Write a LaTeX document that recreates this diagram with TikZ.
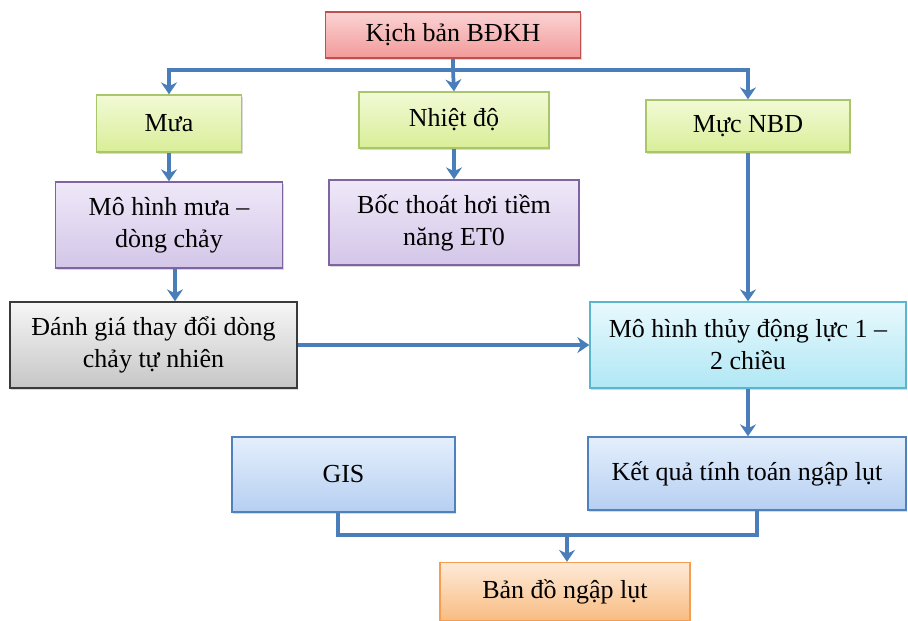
\documentclass[tikz,border=0pt]{standalone}
\usepackage{fontspec}
\setmainfont{Liberation Serif}
\usepackage{xcolor}
\usepackage{tikz}
\usetikzlibrary{arrows.meta,shadows}
\definecolor{Wire}{HTML}{4A7EBB}
\definecolor{RedLine}{HTML}{C0504D}
\definecolor{RedTop}{HTML}{FBD3D3}
\definecolor{RedBot}{HTML}{F29A9A}
\definecolor{GreenLine}{HTML}{A9C66A}
\definecolor{GreenTop}{HTML}{F2FAD6}
\definecolor{GreenBot}{HTML}{D9EE98}
\definecolor{PurpLine}{HTML}{8064A2}
\definecolor{PurpTop}{HTML}{EFE8F8}
\definecolor{PurpBot}{HTML}{D3C6E8}
\definecolor{GrayLine}{HTML}{3A3A3A}
\definecolor{GrayTop}{HTML}{F6F6F6}
\definecolor{GrayBot}{HTML}{C6C6C6}
\definecolor{CyanLine}{HTML}{5BB5CE}
\definecolor{CyanTop}{HTML}{E8F9FD}
\definecolor{CyanBot}{HTML}{B0E7F5}
\definecolor{BlueLine}{HTML}{4F81BD}
\definecolor{BlueTop}{HTML}{E4EFFC}
\definecolor{BlueBot}{HTML}{B6CFF2}
\definecolor{OrLine}{HTML}{F59D50}
\definecolor{OrTop}{HTML}{FDEAD8}
\definecolor{OrBot}{HTML}{F9BC82}

\begin{document}
\begin{tikzpicture}[x=0.75pt,y=-0.75pt,
  box/.style={draw,line width=1pt,align=center,inner sep=2pt,
    font=\fontsize{19.5}{24}\selectfont,
    drop shadow={shadow xshift=1pt,shadow yshift=-1.5pt,opacity=.3}},
  redbox/.style={box,draw=RedLine,top color=RedTop,bottom color=RedBot},
  greenbox/.style={box,draw=GreenLine,top color=GreenTop,bottom color=GreenBot},
  purpbox/.style={box,draw=PurpLine,top color=PurpTop,bottom color=PurpBot},
  graybox/.style={box,draw=GrayLine,top color=GrayTop,bottom color=GrayBot},
  cyanbox/.style={box,draw=CyanLine,top color=CyanTop,bottom color=CyanBot},
  bluebox/.style={box,draw=BlueLine,top color=BlueTop,bottom color=BlueBot},
  orbox/.style={box,draw=OrLine,top color=OrTop,bottom color=OrBot},
  link/.style={Wire,line width=2.8pt},
  arr/.style={link,-{Stealth[length=9pt,width=12pt]}}]
\useasboundingbox (0,0) rectangle (908,621);
\node[redbox,minimum width=191.25pt,minimum height=34.5pt] (bdkh) at (453,35) {Kịch bản BĐKH};
\node[greenbox,minimum width=108.75pt,minimum height=42.75pt] (mua) at (169,123.5) {Mưa};
\node[greenbox,minimum width=142.5pt,minimum height=42pt] (nhiet) at (454,120) {Nhiệt độ};
\node[greenbox,minimum width=153pt,minimum height=39pt] (mucnbd) at (748,126) {Mực NBD};
\node[purpbox,minimum width=170.25pt,minimum height=64.5pt] (mhmua) at (169,225) {Mô hình mưa –\\dòng chảy};
\node[purpbox,minimum width=187.5pt,minimum height=63.75pt] (bocthoat) at (454,222.5) {Bốc thoát hơi tiềm\\năng ET0};
\node[graybox,minimum width=215.25pt,minimum height=64.5pt] (danhgia) at (153.5,345) {Đánh giá thay đổi dòng\\chảy tự nhiên};
\node[cyanbox,minimum width=237pt,minimum height=64.5pt] (thuydong) at (748,345) {Mô hình thủy động lực 1 –\\2 chiều};
\node[bluebox,minimum width=167.25pt,minimum height=56.25pt] (gis) at (343.5,474.5) {GIS};
\node[bluebox,minimum width=238.5pt,minimum height=54.75pt] (ketqua) at (747,473.5) {Kết quả tính toán ngập lụt};
\node[orbox,minimum width=187.5pt,minimum height=43.5pt] (bando) at (565,591.5) {Bản đồ ngập lụt};
% bus lines
\coordinate (topbus) at (453,70);
\coordinate (botbus) at (567,535);
\draw[link] (bdkh.south) -- (topbus);
\draw[arr] (topbus) -| (mua.north);
\draw[arr] (topbus) -- (nhiet.north);
\draw[arr] (topbus) -| (mucnbd.north);
\draw[arr] (mua) -- (mhmua);
\draw[arr] (nhiet) -- (bocthoat);
\draw[arr] ([xshift=4.5pt]mhmua.south) -- ([xshift=4.5pt]mhmua.south |- danhgia.north);
\draw[arr] (mucnbd) -- (thuydong);
\draw[arr] (danhgia) -- (thuydong);
\draw[arr] (thuydong.south) -- (thuydong.south |- ketqua.north);
\draw[link] ([xshift=-4pt]gis.south) |- (botbus) -| ([xshift=7.5pt]ketqua.south);
\draw[arr] (botbus) -- (botbus |- bando.north);
\end{tikzpicture}
\end{document}
